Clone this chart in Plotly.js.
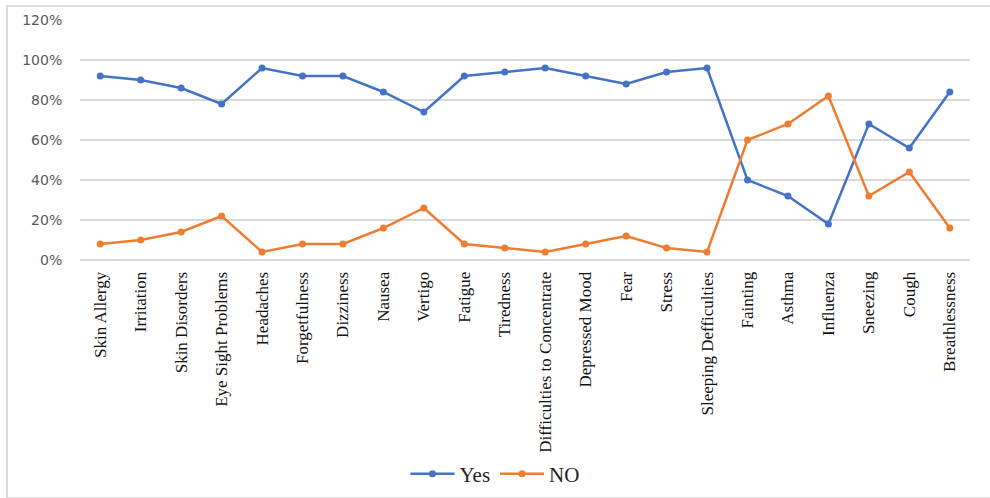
<!DOCTYPE html>
<html>
<head>
<meta charset="utf-8">
<script src="https://cdn.plot.ly/plotly-3.0.1.min.js"></script>
<style>
  html, body { margin: 0; padding: 0; background: #ffffff; }
  #wrap { position: relative; width: 990px; height: 498px; overflow: hidden; }
  #chart { position: absolute; left: 0; top: 0; width: 990px; height: 498px; }
  #frame { position: absolute; left: 6px; top: 5px; width: 1000px; height: 490px;
           border: 2px solid #dcdcdc; pointer-events: none; }
</style>
</head>
<body>
<div id="wrap">
  <div id="chart"></div>
  <div id="frame"></div>
</div>
<script>
const categories = ["Skin Allergy", "Irritation", "Skin Disorders", "Eye Sight Problems", "Headaches",
  "Forgetfulness", "Dizziness", "Nausea", "Vertigo", "Fatigue", "Tiredness",
  "Difficulties to Concentrate", "Depressed Mood", "Fear", "Stress", "Sleeping Defficulties",
  "Fainting", "Asthma", "Influenza", "Sneezing", "Cough", "Breathlessness"];
const yesValues = [0.92, 0.90, 0.86, 0.78, 0.96, 0.92, 0.92, 0.84, 0.74, 0.92, 0.94,
  0.96, 0.92, 0.88, 0.94, 0.96, 0.40, 0.32, 0.18, 0.68, 0.56, 0.84];
const noValues = [0.08, 0.10, 0.14, 0.22, 0.04, 0.08, 0.08, 0.16, 0.26, 0.08, 0.06,
  0.04, 0.08, 0.12, 0.06, 0.04, 0.60, 0.68, 0.82, 0.32, 0.44, 0.16];
const yTickValues = [0, 0.2, 0.4, 0.6, 0.8, 1.0, 1.2];
const yTickLabels = ["0%", "20%", "40%", "60%", "80%", "100%", "120%"];

const traces = [
  { x: categories, y: yesValues, name: "Yes", type: "scatter", mode: "lines+markers",
    line: { color: "#4472C4", width: 2.5 }, marker: { color: "#4472C4", size: 7 } },
  { x: categories, y: noValues, name: "NO", type: "scatter", mode: "lines+markers",
    line: { color: "#ED7D31", width: 2.5 }, marker: { color: "#ED7D31", size: 7 } }
];

const layout = {
  width: 990, height: 498,
  margin: { l: 80, r: 20, t: 20, b: 238, autoexpand: false },
  paper_bgcolor: "#ffffff", plot_bgcolor: "#ffffff",
  showlegend: true,
  legend: { orientation: "h", xref: "container", x: 0.5, xanchor: "center",
    yref: "container", y: 0.048, yanchor: "middle", bgcolor: "rgba(0,0,0,0)",
    font: { family: "Liberation Serif", size: 21, color: "#222222" }, itemwidth: 44 },
  xaxis: {
    type: "category", tickangle: -90, showgrid: false, zeroline: false, automargin: false,
    showline: false, ticks: "outside", ticklen: 4, tickcolor: "rgba(0,0,0,0)",
    tickfont: { family: "Liberation Serif", size: 17, color: "#111111" },
    range: [-0.5, categories.length - 0.5]
  },
  yaxis: {
    range: [0, 1.2], tickvals: yTickValues, ticktext: yTickLabels, automargin: false,
    showgrid: true, gridcolor: "#d9d9d9", gridwidth: 1.5,
    zeroline: true, zerolinecolor: "#d9d9d9", zerolinewidth: 1.5,
    showline: false, ticks: "outside", ticklen: 14, tickcolor: "rgba(0,0,0,0)",
    tickfont: { family: "DejaVu Sans", size: 14, color: "#595959" }
  }
};

Plotly.newPlot("chart", traces, layout, { displayModeBar: false, responsive: false });
</script>
</body>
</html>
